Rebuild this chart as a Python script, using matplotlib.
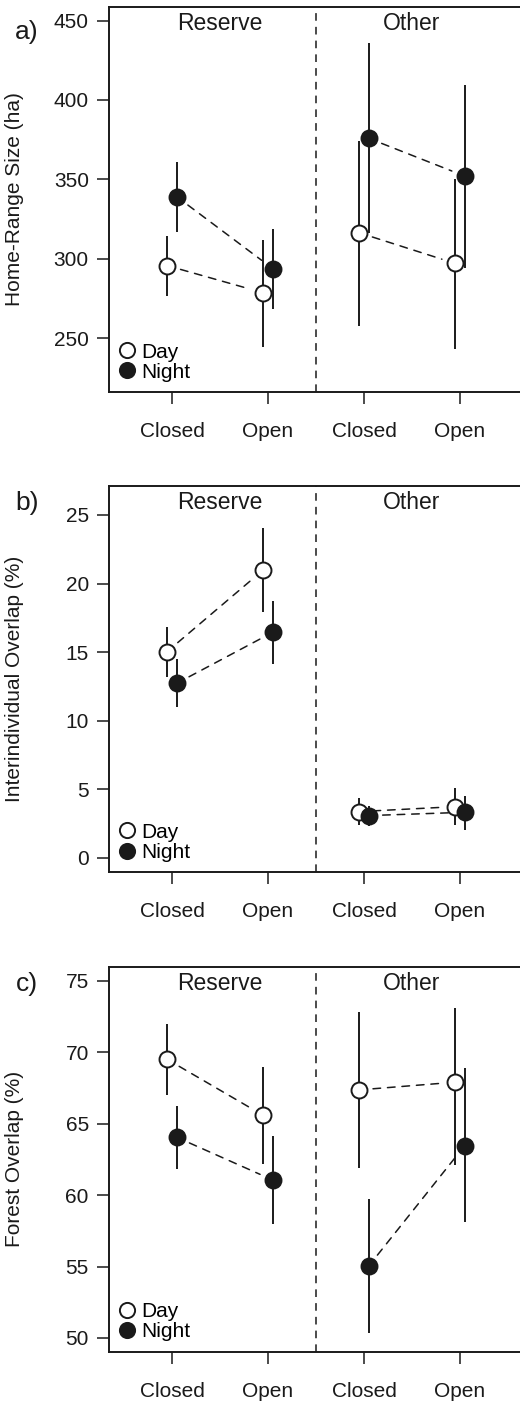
import matplotlib
matplotlib.use("Agg")
import matplotlib.pyplot as plt

plt.rcParams['font.family'] = ['Liberation Sans', 'DejaVu Sans']

# Categories
habitats = ["Closed", "Open", "Closed", "Open"]
groups = ["Reserve", "Other"]
panel_tags = ["a)", "b)", "c)"]
ylabels = ["Home-Range Size (ha)", "Interindividual Overlap (%)", "Forest Overlap (%)"]

# Panel a: home-range size (Reserve closed, Reserve open, Other closed, Other open)
hr_day = [295.6, 278.5, 316.3, 297.0]
hr_day_lo = [276.7, 244.5, 257.8, 243.0]
hr_day_hi = [314.5, 311.7, 374.3, 350.2]
hr_night = [339.0, 293.7, 375.8, 352.0]
hr_night_lo = [317.0, 268.3, 316.0, 294.0]
hr_night_hi = [360.7, 318.9, 435.6, 409.6]

# Panel b: interindividual overlap
io_day = [15.04, 20.99, 3.38, 3.74]
io_day_lo = [13.22, 17.95, 2.40, 2.40]
io_day_hi = [16.86, 24.03, 4.37, 5.08]
io_night = [12.73, 16.45, 3.09, 3.33]
io_night_lo = [10.98, 14.14, 2.36, 2.04]
io_night_hi = [14.48, 18.76, 3.79, 4.54]

# Panel c: forest overlap
fo_day = [69.51, 65.59, 67.37, 67.91]
fo_day_lo = [67.02, 62.18, 61.88, 62.11]
fo_day_hi = [72.01, 68.95, 72.85, 73.13]
fo_night = [64.05, 61.06, 55.04, 63.47]
fo_night_lo = [61.81, 57.96, 50.37, 58.10]
fo_night_hi = [66.27, 64.12, 59.73, 68.89]

panels = [
    (hr_day, hr_day_lo, hr_day_hi, hr_night, hr_night_lo, hr_night_hi),
    (io_day, io_day_lo, io_day_hi, io_night, io_night_lo, io_night_hi),
    (fo_day, fo_day_lo, fo_day_hi, fo_night, fo_night_lo, fo_night_hi),
]
ylims = [(216, 458.5), (-1.04, 27.11), (49.04, 75.98)]
yticks = [range(250, 451, 50), range(0, 26, 5), range(50, 76, 5)]

# Axes boxes in figure fractions (left, bottom, width, height)
boxes = [
    (0.2096, 0.7206, 0.796, 0.2744),
    (0.2096, 0.3783, 0.796, 0.2753),
    (0.2096, 0.0366, 0.796, 0.2742),
]
tag_y = [0.9775, 0.6415, 0.2985]

ink = "#1a1a1a"
xpos = [1, 2, 3, 4]
offset = 0.05

fig = plt.figure(figsize=(5.2, 14.03), dpi=100)

for k in range(3):
    day, day_lo, day_hi, night, night_lo, night_hi = panels[k]
    ax = fig.add_axes(boxes[k])

    xd = [x - offset for x in xpos]
    xn = [x + offset for x in xpos]

    # Error bars
    ax.vlines(xd, day_lo, day_hi, color=ink, lw=1.4, zorder=2)
    ax.vlines(xn, night_lo, night_hi, color=ink, lw=1.4, zorder=2)

    # Dashed connectors (Closed -> Open within each group), with gaps at points
    for xs, ys in [(xd, day), (xn, night)]:
        for i in (0, 2):
            ax.annotate("", xy=(xs[i + 1], ys[i + 1]), xytext=(xs[i], ys[i]),
                        arrowprops=dict(arrowstyle="-", shrinkA=10, shrinkB=10,
                                        linestyle=(0, (5, 4.5)), lw=1.1, color=ink),
                        zorder=1)

    # Points
    ax.plot(xd, day, "o", ms=11.5, mfc="white", mec=ink, mew=1.4, ls="none",
            zorder=3, label="Day")
    ax.plot(xn, night, "o", ms=11.5, mfc=ink, mec=ink, mew=1.4, ls="none",
            zorder=3, label="Night")

    # Divider between Reserve and Other
    ax.axvline(2.5, color=ink, lw=1.1, ls=(0, (5, 4)), zorder=1)

    ax.set_xlim(0.344, 4.656)
    ax.set_ylim(*ylims[k])
    ax.set_xticks(xpos)
    ax.set_xticklabels(habitats)
    ax.set_yticks(list(yticks[k]))
    ax.tick_params(axis="both", direction="out", length=8.5, width=1.1,
                   labelsize=15, colors=ink)
    ax.tick_params(axis="x", pad=13)
    ax.tick_params(axis="y", pad=6)
    for sp in ax.spines.values():
        sp.set_linewidth(1.4)
        sp.set_color(ink)

    ax.set_ylabel(ylabels[k], fontsize=15, color=ink)
    ax.yaxis.set_label_coords(-0.205, 0.5)

    ax.text(1.5, 0.958, groups[0], transform=ax.get_xaxis_transform(),
            ha="center", va="center", fontsize=16.5, color=ink)
    ax.text(3.5, 0.958, groups[1], transform=ax.get_xaxis_transform(),
            ha="center", va="center", fontsize=16.5, color=ink)

    ax.legend(loc="lower left", frameon=False, fontsize=15, handlelength=0.7,
              handletextpad=0.35, labelspacing=0.05, borderaxespad=0.2,
              borderpad=0.3, markerscale=0.95)

    fig.text(0.052, tag_y[k], panel_tags[k], ha="center", va="center",
             fontsize=19, color=ink)

fig.savefig("out.png", dpi=100)
